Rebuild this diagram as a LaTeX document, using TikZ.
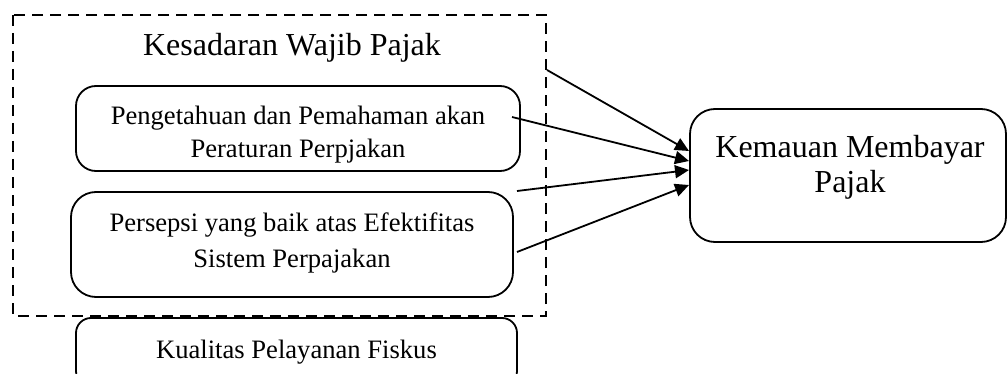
\documentclass[tikz,border=0pt]{standalone}
\usepackage{fontspec}
\setmainfont{Liberation Serif}
\usetikzlibrary{arrows.meta}
\begin{document}
\begin{tikzpicture}[x=1pt,y=-1pt,
  rbox/.style={draw,line width=1.8pt,rounded corners=20pt,inner sep=0pt},
  boxtext/.style={align=center,font=\fontsize{26.6}{33}\selectfont},
  bigtext/.style={align=center,font=\fontsize{32}{35}\selectfont},
  conn/.style={line width=1.8pt,-{Triangle[length=14pt,width=13pt]}}]
\clip (0,0) rectangle (1008,374);
\draw[line width=2.8pt,dash pattern=on 11pt off 7pt] (13,15) rectangle (546,316);
\node[bigtext] (title) at (292,48) {Kesadaran Wajib Pajak};
\node[rbox,minimum width=444pt,minimum height=85pt] (b1) at (298,128.5) {};
\node[boxtext] (t1) at (298,135) {Pengetahuan dan Pemahaman akan\\Peraturan Perpjakan};
\node[rbox,minimum width=442pt,minimum height=105pt,rounded corners=25pt] (b2) at (292,244.5) {};
\node[boxtext,font=\fontsize{26.6}{36}\selectfont] (t2) at (292,243) {Persepsi yang baik atas Efektifitas\\Sistem Perpajakan};
\node[rbox,minimum width=441pt,minimum height=68pt,rounded corners=15pt] (b3) at (296.5,352) {};
\node[boxtext] (t3) at (296.5,352) {Kualitas Pelayanan Fiskus};
\node[rbox,minimum width=316pt,minimum height=133pt,rounded corners=25pt] (k) at (848,175.5) {};
\node[bigtext] (kt) at (850,167) {Kemauan Membayar\\Pajak};
\coordinate (s1) at (547,70);
\coordinate (s2) at (512,117);
\coordinate (s3) at (517,191);
\coordinate (s4) at (517,252);
\coordinate (e1) at (689,151);
\coordinate (e2) at (689,161);
\coordinate (e3) at (689,170);
\coordinate (e4) at (689,185);
\draw[conn] (s1) -- (e1);
\draw[conn] (s2) -- (e2);
\draw[conn] (s3) -- (e3);
\draw[conn] (s4) -- (e4);
\end{tikzpicture}
\end{document}
